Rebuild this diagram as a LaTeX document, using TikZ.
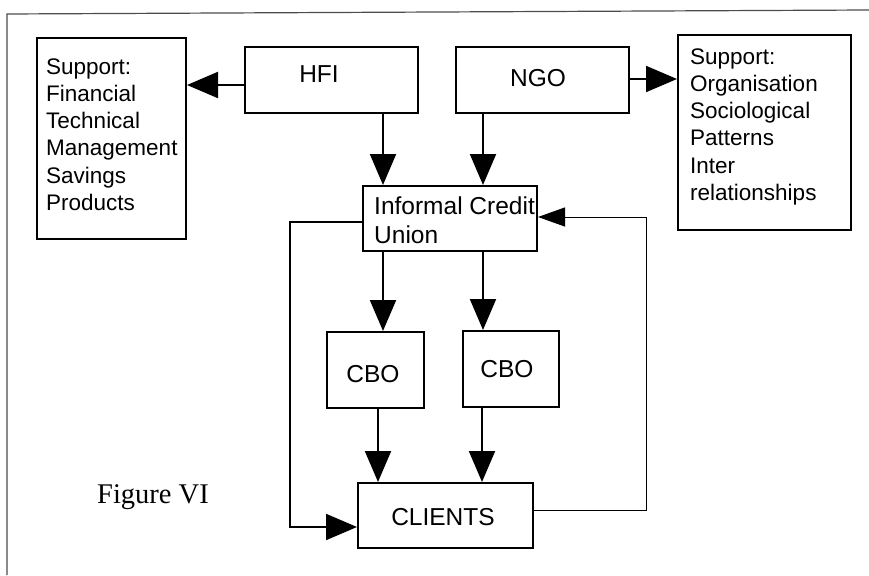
\documentclass[tikz,border=0pt]{standalone}
\usepackage{fontspec}
\setmainfont{Liberation Sans}
\newfontfamily\figfont{Liberation Serif}
\usetikzlibrary{arrows.meta}
\begin{document}
\begin{tikzpicture}[x=1pt,y=-1pt,
  box/.style={draw=black,line width=2pt,inner sep=0pt,rectangle},
  lbl/.style={inner sep=0pt,font=\fontsize{22.5}{27.3}\selectfont},
  biglbl/.style={inner sep=0pt,font=\fontsize{24.5}{29}\selectfont},
  arr/.style={line width=2pt,-{Triangle[length=31pt,width=26pt]}},
  thinarr/.style={line width=1pt,-{Triangle[length=27pt,width=19pt]}},
  frame/.style={draw=black!70,line width=1.2pt}]
\useasboundingbox (0,0) rectangle (869,575);
\draw[frame] (7,575) -- (7,14) -- (869,10);
% boxes
\node[box,minimum width=149pt,minimum height=201pt] (supL) at (111.5,138.5) {};
\node[box,minimum width=173pt,minimum height=66pt] (hfi) at (331.5,80) {};
\node[box,minimum width=173pt,minimum height=66pt] (ngo) at (542.5,80) {};
\node[box,minimum width=173pt,minimum height=195pt] (supR) at (764.5,132.5) {};
\node[box,minimum width=174pt,minimum height=65pt] (icu) at (450,218.5) {};
\node[box,minimum width=97pt,minimum height=76pt] (cbo1) at (375.5,370) {};
\node[box,minimum width=96pt,minimum height=76pt] (cbo2) at (511,369) {};
\node[box,minimum width=175pt,minimum height=65pt] (cli) at (445.5,515.5) {};
% texts (base anchor = baseline of last line)
\node[lbl,anchor=base west,align=left] (supLt) at (46,210.5) {Support:\\Financial\\Technical\\Management\\Savings\\Products};
\node[lbl,anchor=base west,align=left] (supRt) at (690,200.5) {Support:\\Organisation\\Sociological\\Patterns\\Inter\\relationships};
\node[biglbl,anchor=base west,align=left] (icut) at (374,243) {Informal Credit\\Union};
\node[biglbl,anchor=base] (hfit) at (319,83) {HFI};
\node[biglbl,anchor=base] (ngot) at (538,87) {NGO};
\node[biglbl,anchor=base] (cbo1t) at (373,382) {CBO};
\node[biglbl,anchor=base] (cbo2t) at (507,377) {CBO};
\node[biglbl,anchor=base] (clit) at (443,525) {CLIENTS};
\node[inner sep=0pt,anchor=base west,font=\figfont\fontsize{28.5}{34}\selectfont] (fig) at (97,503) {Figure VI};
% helper coordinates
\coordinate (c383) at (383,0);
\coordinate (c483) at (483,0);
\coordinate (c378) at (378,0);
\coordinate (c482) at (482,0);
\coordinate (r85) at (0,85);
\coordinate (r79) at (0,79);
\coordinate (lc) at (290,222);
\coordinate (lr) at (0,527);
\coordinate (fc) at (646,510);
\coordinate (fr) at (0,217);
% connectors
\draw[arr] (hfi.west |- r85) -- (supL.east |- r85);
\draw[arr] (ngo.east |- r79) -- (supR.west |- r79);
\draw[arr] (hfi.south -| c383) -- (icu.north -| c383);
\draw[arr] (ngo.south -| c483) -- (icu.north -| c483);
\draw[arr] (icu.south -| c383) -- (cbo1.north -| c383);
\draw[arr] (icu.south -| c483) -- (cbo2.north -| c483);
\draw[arr] (cbo1.south -| c378) -- (cli.north -| c378);
\draw[arr] (cbo2.south -| c482) -- (cli.north -| c482);
\draw[arr] (icu.west |- lc) -- (lc) |- (cli.west |- lr);
\draw[thinarr] (cli.east |- fc) -- (fc) |- (icu.east |- fr);
\end{tikzpicture}
\end{document}
